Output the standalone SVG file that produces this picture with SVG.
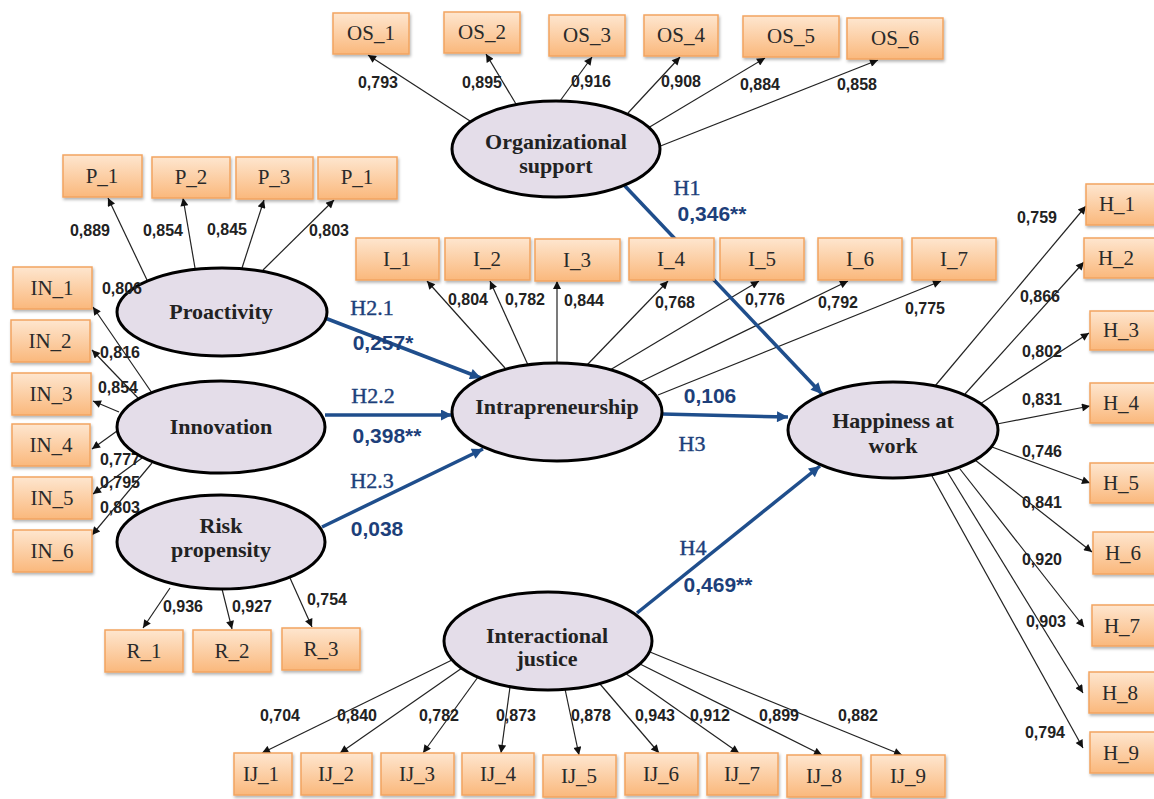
<svg xmlns="http://www.w3.org/2000/svg" width="1154" height="799" viewBox="0 0 1154 799">
<style>
.box{fill:url(#og);stroke:#f2a460;stroke-width:1.5;filter:url(#sh)}
.bt{font-family:"Liberation Serif",serif;font-size:21px;fill:#2a2a2a;text-anchor:middle}
.el{fill:#e4dde9;stroke:#000;stroke-width:3}
.et{font-family:"Liberation Serif",serif;font-size:22px;font-weight:bold;fill:#222;text-anchor:middle}
.ln{stroke:#222;stroke-width:1.2;fill:none;marker-end:url(#ah)}
.bl{stroke:#1f4e8c;stroke-width:3.5;fill:none;marker-end:url(#ab)}
.ld{font-family:"Liberation Sans",sans-serif;font-size:16px;font-weight:bold;fill:#222;text-anchor:middle}
.hl{font-family:"Liberation Serif",serif;font-size:22px;fill:#1d3f7a;stroke:#1d3f7a;stroke-width:0.4;text-anchor:middle}
.hv{font-family:"Liberation Sans",sans-serif;font-size:21px;font-weight:bold;fill:#1d3f7a;text-anchor:middle}
</style>
<defs>
<linearGradient id="og" x1="0" y1="0" x2="0" y2="1">
<stop offset="0" stop-color="#fee6cf"/>
<stop offset="1" stop-color="#fab87c"/>
</linearGradient>
<filter id="sh" x="-10%" y="-10%" width="130%" height="140%">
<feDropShadow dx="1" dy="2" stdDeviation="1.5" flood-color="#000" flood-opacity="0.3"/>
</filter>
<marker id="ah" viewBox="0 0 10 10" refX="10" refY="5" markerWidth="10" markerHeight="8" markerUnits="userSpaceOnUse" orient="auto">
<path d="M0,0 L10,5 L0,10 z" fill="#111"/>
</marker>
<marker id="ab" viewBox="0 0 10 10" refX="10" refY="5" markerWidth="14" markerHeight="11" markerUnits="userSpaceOnUse" orient="auto">
<path d="M0,0 L10,5 L0,10 z" fill="#1f4e8c"/>
</marker>
</defs>
<rect width="1154" height="799" fill="#fff"/>

<g id="connectors">
<line class="ln" x1="470" y1="121" x2="368" y2="55"/>
<line class="ln" x1="516" y1="104" x2="486" y2="54"/>
<line class="ln" x1="560" y1="101" x2="592" y2="57"/>
<line class="ln" x1="628" y1="113" x2="680" y2="57"/>
<line class="ln" x1="648" y1="128" x2="765" y2="58"/>
<line class="ln" x1="658" y1="147" x2="878" y2="60"/>
<line class="ln" x1="147" y1="280" x2="108" y2="198"/>
<line class="ln" x1="195" y1="268" x2="183" y2="198"/>
<line class="ln" x1="242" y1="268" x2="264" y2="200"/>
<line class="ln" x1="263" y1="270" x2="334" y2="200"/>
<line class="ln" x1="152" y1="393" x2="93" y2="307"/>
<line class="ln" x1="138" y1="398" x2="92" y2="350"/>
<line class="ln" x1="119" y1="412" x2="93" y2="401"/>
<line class="ln" x1="117" y1="431" x2="92" y2="449"/>
<line class="ln" x1="142" y1="458" x2="93" y2="494"/>
<line class="ln" x1="152" y1="463" x2="92" y2="535"/>
<line class="ln" x1="170" y1="588" x2="143" y2="628"/>
<line class="ln" x1="222" y1="589" x2="232" y2="629"/>
<line class="ln" x1="290" y1="578" x2="312" y2="627"/>
<line class="ln" x1="505" y1="368" x2="427" y2="281"/>
<line class="ln" x1="528" y1="365" x2="490" y2="281"/>
<line class="ln" x1="557" y1="363" x2="557" y2="281"/>
<line class="ln" x1="587" y1="365" x2="668" y2="281"/>
<line class="ln" x1="610" y1="370" x2="759" y2="281"/>
<line class="ln" x1="640" y1="382" x2="848" y2="281"/>
<line class="ln" x1="658" y1="395" x2="941" y2="281"/>
<line class="ln" x1="935" y1="386" x2="1086" y2="206"/>
<line class="ln" x1="965" y1="394" x2="1084" y2="262"/>
<line class="ln" x1="980" y1="404" x2="1089" y2="333"/>
<line class="ln" x1="997" y1="424" x2="1090" y2="406"/>
<line class="ln" x1="992" y1="447" x2="1090" y2="483"/>
<line class="ln" x1="975" y1="460" x2="1092" y2="552"/>
<line class="ln" x1="960" y1="469" x2="1084" y2="627"/>
<line class="ln" x1="948" y1="473" x2="1083" y2="693"/>
<line class="ln" x1="932" y1="476" x2="1083" y2="748"/>
<line class="ln" x1="452" y1="660" x2="262" y2="753"/>
<line class="ln" x1="462" y1="668" x2="340" y2="753"/>
<line class="ln" x1="478" y1="677" x2="423" y2="753"/>
<line class="ln" x1="510" y1="687" x2="501" y2="753"/>
<line class="ln" x1="565" y1="689" x2="579" y2="755"/>
<line class="ln" x1="600" y1="684" x2="659" y2="753"/>
<line class="ln" x1="625" y1="673" x2="739" y2="753"/>
<line class="ln" x1="640" y1="664" x2="822" y2="755"/>
<line class="ln" x1="650" y1="652" x2="902" y2="755"/>
<line class="bl" x1="624" y1="185" x2="822" y2="394"/>
<line class="bl" x1="325" y1="318" x2="481" y2="378"/>
<line class="bl" x1="325" y1="415" x2="452" y2="415"/>
<line class="bl" x1="322" y1="527" x2="483" y2="449"/>
<line class="bl" x1="662" y1="414" x2="788" y2="417"/>
<line class="bl" x1="637" y1="613" x2="820" y2="466"/>

<text class="ld" x="378" y="88">0,793</text>
<text class="ld" x="482" y="88">0,895</text>
<text class="ld" x="591" y="87">0,916</text>
<text class="ld" x="681" y="87">0,908</text>
<text class="ld" x="760" y="90">0,884</text>
<text class="ld" x="857" y="90">0,858</text>
<text class="ld" x="90" y="236">0,889</text>
<text class="ld" x="163" y="236">0,854</text>
<text class="ld" x="227" y="235">0,845</text>
<text class="ld" x="329" y="236">0,803</text>
<text class="ld" x="120" y="358">0,816</text>
<text class="ld" x="118" y="393">0,854</text>
<text class="ld" x="120" y="465">0,777</text>
<text class="ld" x="120" y="488">0,795</text>
<text class="ld" x="120" y="513">0,803</text>
<text class="ld" x="183" y="612">0,936</text>
<text class="ld" x="252" y="612">0,927</text>
<text class="ld" x="327" y="605">0,754</text>
<text class="ld" x="468" y="305">0,804</text>
<text class="ld" x="525" y="305">0,782</text>
<text class="ld" x="584" y="306">0,844</text>
<text class="ld" x="675" y="308">0,768</text>
<text class="ld" x="765" y="305">0,776</text>
<text class="ld" x="838" y="308">0,792</text>
<text class="ld" x="925" y="314">0,775</text>
<text class="ld" x="1037" y="223">0,759</text>
<text class="ld" x="1040" y="302">0,866</text>
<text class="ld" x="1042" y="357">0,802</text>
<text class="ld" x="1042" y="405">0,831</text>
<text class="ld" x="1042" y="457">0,746</text>
<text class="ld" x="1042" y="508">0,841</text>
<text class="ld" x="1042" y="565">0,920</text>
<text class="ld" x="1046" y="627">0,903</text>
<text class="ld" x="1045" y="738">0,794</text>
<text class="ld" x="280" y="721">0,704</text>
<text class="ld" x="357" y="721">0,840</text>
<text class="ld" x="439" y="721">0,782</text>
<text class="ld" x="516" y="721">0,873</text>
<text class="ld" x="591" y="721">0,878</text>
<text class="ld" x="655" y="721">0,943</text>
<text class="ld" x="710" y="721">0,912</text>
<text class="ld" x="779" y="721">0,899</text>
<text class="ld" x="858" y="721">0,882</text>

<text class="hl" x="687" y="195">H1</text>
<text class="hv" x="712" y="221">0,346**</text>
<text class="hl" x="372" y="315">H2.1</text>
<text class="hv" x="383" y="350">0,257*</text>
<text class="hl" x="373" y="403">H2.2</text>
<text class="hv" x="387" y="443">0,398**</text>
<text class="hl" x="372" y="488">H2.3</text>
<text class="hv" x="377" y="536">0,038</text>
<text class="hv" x="710" y="403">0,106</text>
<text class="hl" x="692" y="451">H3</text>
<text class="hl" x="693" y="555">H4</text>
<text class="hv" x="718" y="592">0,469**</text>
</g>

<g id="organizational-support"><ellipse class="el" cx="556" cy="149" rx="104" ry="48"/><text class="et" x="556" y="149">Organizational</text><text class="et" x="556" y="173">support</text></g>
<g id="proactivity"><ellipse class="el" cx="222" cy="312" rx="105" ry="44"/><text class="et" x="221" y="319">Proactivity</text></g>
<g id="innovation"><ellipse class="el" cx="221" cy="427" rx="104" ry="46"/><text class="et" x="221" y="434">Innovation</text></g>
<g id="risk-propensity"><ellipse class="el" cx="221" cy="542" rx="104" ry="47"/><text class="et" x="221" y="533">Risk</text><text class="et" x="221" y="557">propensity</text></g>
<g id="intrapreneurship"><ellipse class="el" cx="557" cy="412" rx="105" ry="49"/><text class="et" x="557" y="414">Intrapreneurship</text></g>
<g id="happiness-at-work"><ellipse class="el" cx="893" cy="430" rx="105" ry="48"/><text class="et" x="893" y="428">Happiness at</text><text class="et" x="893" y="453">work</text></g>
<g id="interactional-justice"><ellipse class="el" cx="548" cy="641" rx="104" ry="49"/><text class="et" x="547" y="643">Interactional</text><text class="et" x="547" y="666">justice</text></g>

<g id="label-0806"><text class="ld" x="122" y="294">0,806</text></g>

<g id="OS_1"><rect class="box" x="333" y="13" width="76" height="41"/><text class="bt" x="371" y="40">OS_1</text></g>
<g id="OS_2"><rect class="box" x="444" y="12" width="76" height="41"/><text class="bt" x="482" y="39">OS_2</text></g>
<g id="OS_3"><rect class="box" x="549" y="15" width="76" height="41"/><text class="bt" x="587" y="42">OS_3</text></g>
<g id="OS_4"><rect class="box" x="644" y="15" width="74" height="41"/><text class="bt" x="681" y="42">OS_4</text></g>
<g id="OS_5"><rect class="box" x="743" y="16" width="96" height="41"/><text class="bt" x="791" y="43">OS_5</text></g>
<g id="OS_6"><rect class="box" x="847" y="18" width="96" height="41"/><text class="bt" x="895" y="45">OS_6</text></g>

<g id="P_1"><rect class="box" x="63" y="155" width="79" height="42"/><text class="bt" x="102" y="183">P_1</text></g>
<g id="P_2"><rect class="box" x="152" y="157" width="78" height="41"/><text class="bt" x="191" y="184">P_2</text></g>
<g id="P_3"><rect class="box" x="236" y="157" width="77" height="42"/><text class="bt" x="274" y="184">P_3</text></g>
<g id="P_1b"><rect class="box" x="318" y="157" width="79" height="42"/><text class="bt" x="357" y="184">P_1</text></g>

<g id="IN_1"><rect class="box" x="13" y="267" width="79" height="42"/><text class="bt" x="52" y="295">IN_1</text></g>
<g id="IN_2"><rect class="box" x="11" y="320" width="79" height="42"/><text class="bt" x="50" y="348">IN_2</text></g>
<g id="IN_3"><rect class="box" x="12" y="373" width="79" height="42"/><text class="bt" x="51" y="401">IN_3</text></g>
<g id="IN_4"><rect class="box" x="12" y="424" width="78" height="42"/><text class="bt" x="51" y="452">IN_4</text></g>
<g id="IN_5"><rect class="box" x="13" y="477" width="79" height="42"/><text class="bt" x="52" y="505">IN_5</text></g>
<g id="IN_6"><rect class="box" x="13" y="530" width="79" height="42"/><text class="bt" x="52" y="558">IN_6</text></g>

<g id="R_1"><rect class="box" x="105" y="630" width="78" height="42"/><text class="bt" x="144" y="658">R_1</text></g>
<g id="R_2"><rect class="box" x="193" y="630" width="78" height="42"/><text class="bt" x="232" y="658">R_2</text></g>
<g id="R_3"><rect class="box" x="282" y="628" width="78" height="42"/><text class="bt" x="321" y="656">R_3</text></g>

<g id="I_1"><rect class="box" x="356" y="238" width="83" height="42"/><text class="bt" x="397" y="266">I_1</text></g>
<g id="I_2"><rect class="box" x="445" y="238" width="85" height="42"/><text class="bt" x="487" y="266">I_2</text></g>
<g id="I_3"><rect class="box" x="535" y="239" width="85" height="42"/><text class="bt" x="577" y="267">I_3</text></g>
<g id="I_4"><rect class="box" x="629" y="238" width="85" height="42"/><text class="bt" x="671" y="266">I_4</text></g>
<g id="I_5"><rect class="box" x="720" y="238" width="84" height="42"/><text class="bt" x="762" y="266">I_5</text></g>
<g id="I_6"><rect class="box" x="818" y="238" width="84" height="42"/><text class="bt" x="860" y="266">I_6</text></g>
<g id="I_7"><rect class="box" x="912" y="238" width="84" height="42"/><text class="bt" x="954" y="266">I_7</text></g>

<g id="H_1"><rect class="box" x="1086" y="184" width="80" height="41"/><text class="bt" x="1117" y="211">H_1</text></g>
<g id="H_2"><rect class="box" x="1084" y="238" width="80" height="40"/><text class="bt" x="1116" y="265">H_2</text></g>
<g id="H_3"><rect class="box" x="1090" y="311" width="80" height="39"/><text class="bt" x="1121" y="337">H_3</text></g>
<g id="H_4"><rect class="box" x="1090" y="383" width="80" height="40"/><text class="bt" x="1121" y="410">H_4</text></g>
<g id="H_5"><rect class="box" x="1090" y="463" width="80" height="40"/><text class="bt" x="1121" y="490">H_5</text></g>
<g id="H_6"><rect class="box" x="1093" y="532" width="80" height="42"/><text class="bt" x="1123" y="560">H_6</text></g>
<g id="H_7"><rect class="box" x="1092" y="605" width="80" height="41"/><text class="bt" x="1122" y="633">H_7</text></g>
<g id="H_8"><rect class="box" x="1089" y="672" width="80" height="41"/><text class="bt" x="1120" y="700">H_8</text></g>
<g id="H_9"><rect class="box" x="1090" y="732" width="80" height="41"/><text class="bt" x="1121" y="760">H_9</text></g>

<g id="IJ_1"><rect class="box" x="234" y="753" width="58" height="42"/><text class="bt" x="261" y="781">IJ_1</text></g>
<g id="IJ_2"><rect class="box" x="301" y="753" width="71" height="42"/><text class="bt" x="336" y="781">IJ_2</text></g>
<g id="IJ_3"><rect class="box" x="381" y="753" width="73" height="42"/><text class="bt" x="417" y="781">IJ_3</text></g>
<g id="IJ_4"><rect class="box" x="462" y="753" width="72" height="42"/><text class="bt" x="498" y="781">IJ_4</text></g>
<g id="IJ_5"><rect class="box" x="543" y="755" width="73" height="42"/><text class="bt" x="579" y="783">IJ_5</text></g>
<g id="IJ_6"><rect class="box" x="625" y="753" width="73" height="42"/><text class="bt" x="661" y="781">IJ_6</text></g>
<g id="IJ_7"><rect class="box" x="707" y="753" width="71" height="42"/><text class="bt" x="742" y="781">IJ_7</text></g>
<g id="IJ_8"><rect class="box" x="787" y="755" width="74" height="42"/><text class="bt" x="824" y="783">IJ_8</text></g>
<g id="IJ_9"><rect class="box" x="871" y="755" width="74" height="42"/><text class="bt" x="908" y="783">IJ_9</text></g>
</svg>
